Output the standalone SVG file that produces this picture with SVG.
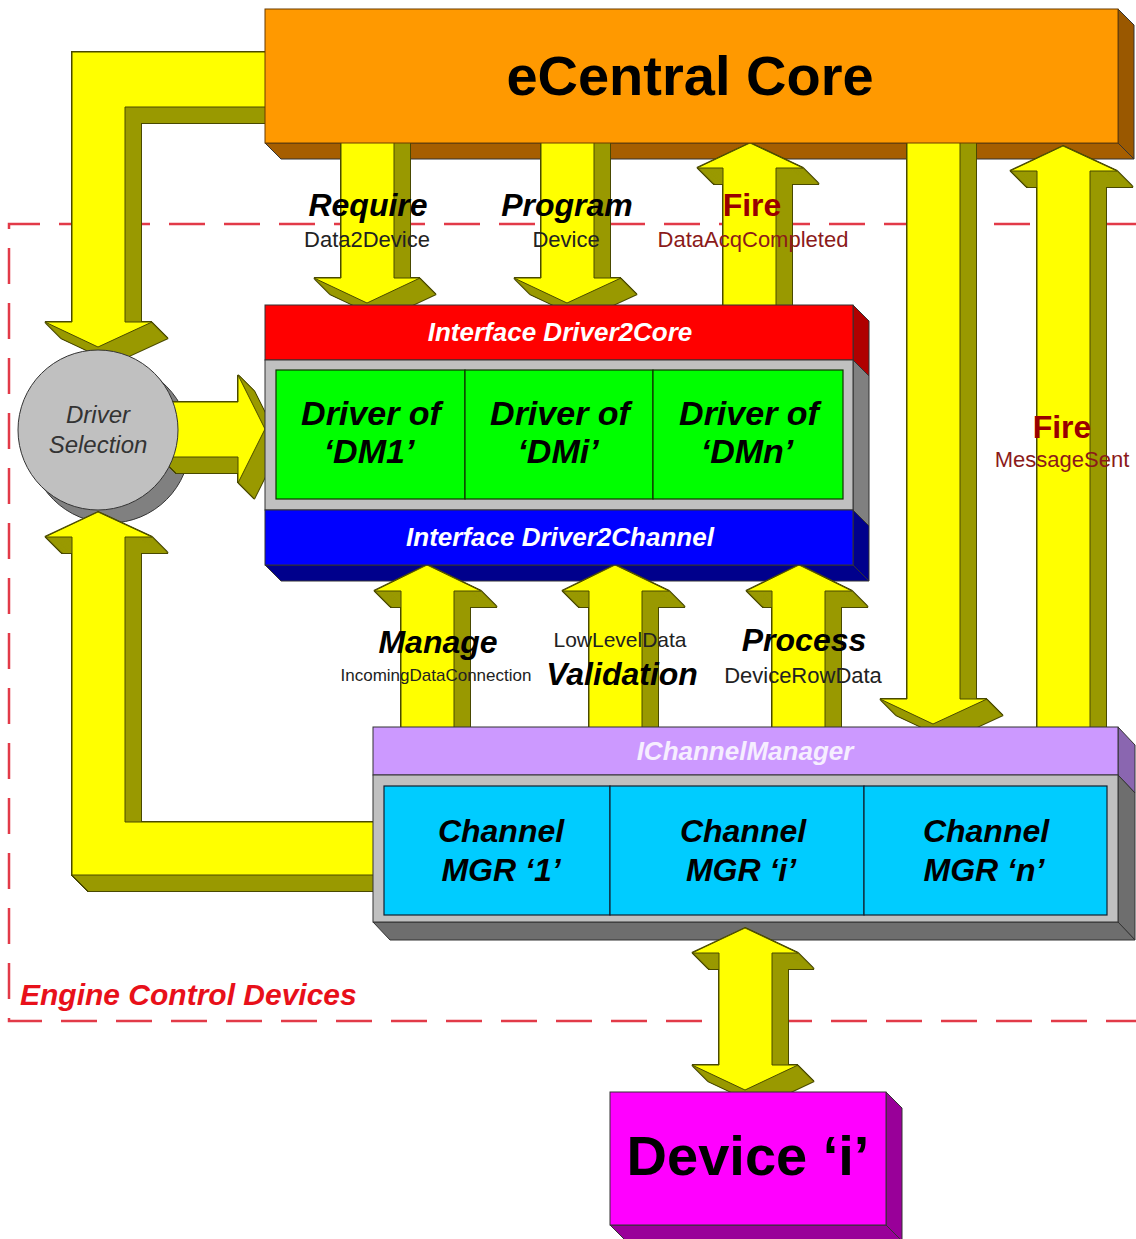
<svg xmlns="http://www.w3.org/2000/svg" width="1136" height="1239" viewBox="0 0 1136 1239">
<style>
  .sil{fill:#4a4a00;stroke:#4a4a00;stroke-width:2;stroke-linejoin:miter}
  .oli{fill:#999900;stroke:none}
  .front{fill:#ffff00;stroke:#4a4a00;stroke-width:1;stroke-linejoin:miter}
  .edge{stroke:#333;stroke-width:1}
  text{font-family:"Liberation Sans",Arial,sans-serif}
  .lbl{font-size:22px;fill:#222;text-anchor:middle}
  .verb{font-size:32px;font-weight:bold;font-style:italic;fill:#000;text-anchor:middle}
  .fire{font-size:32px;font-weight:bold;fill:#990000;text-anchor:middle}
  .firesub{font-size:22px;fill:#8b1a1a;text-anchor:middle}
  .cell{font-size:34px;font-weight:bold;font-style:italic;fill:#000;text-anchor:middle}
  .chan{font-size:32px;font-weight:bold;font-style:italic;fill:#000;text-anchor:middle}
  .iface{font-size:26px;font-weight:bold;font-style:italic;fill:#fff;text-anchor:middle}
</style>
<defs>
  <filter id="ex" filterUnits="userSpaceOnUse" x="0" y="0" width="1136" height="1239">
    <feOffset in="SourceGraphic" dx="1" dy="0.94" result="a"/>
    <feMerge result="m1"><feMergeNode in="SourceGraphic"/><feMergeNode in="a"/></feMerge>
    <feOffset in="m1" dx="2" dy="1.88" result="b"/>
    <feMerge result="m2"><feMergeNode in="m1"/><feMergeNode in="b"/></feMerge>
    <feOffset in="m2" dx="4" dy="3.75" result="c"/>
    <feMerge result="m3"><feMergeNode in="m2"/><feMergeNode in="c"/></feMerge>
    <feOffset in="m3" dx="8" dy="7.5" result="d"/>
    <feMerge result="m4"><feMergeNode in="m3"/><feMergeNode in="d"/></feMerge>
    <feOffset in="m4" dx="1" dy="0.94" result="e"/>
    <feMerge><feMergeNode in="m4"/><feMergeNode in="e"/></feMerge>
  </filter>
  <path id="pTL" d="M285,52 L72,52 L72,322 L45,322 L98,347 L152,322 L125,322 L125,107 L285,107 Z"/>
  <path id="pBL" d="M98,512 L152,537 L125,537 L125,822 L395,822 L395,875 L72,875 L72,537 L45,537 Z"/>
  <path id="pDS" d="M160,402 L238,402 L238,375 L265,429 L238,483 L238,457 L160,457 Z"/>
  <path id="pReq" d="M341,120 L394,120 L394,278 L420,278 L367,303 L314,278 L341,278 Z"/>
  <path id="pProg" d="M541,120 L594,120 L594,278 L621,278 L567,303 L514,278 L541,278 Z"/>
  <path id="pAcq" d="M750,143 L803,168 L776,168 L776,330 L723,330 L723,168 L697,168 Z"/>
  <path id="pDown" d="M907,120 L960,120 L960,699 L987,699 L933,724 L880,699 L907,699 Z"/>
  <path id="pMsg" d="M1063,146 L1117,171 L1090,171 L1090,750 L1037,750 L1037,171 L1010,171 Z"/>
  <path id="pMan" d="M427,565 L481,591 L454,591 L454,750 L401,750 L401,591 L374,591 Z"/>
  <path id="pVal" d="M615,565 L669,591 L642,591 L642,750 L589,750 L589,591 L562,591 Z"/>
  <path id="pProc" d="M799,565 L852,591 L825,591 L825,750 L772,750 L772,591 L746,591 Z"/>
  <path id="pDev" d="M745,928 L798,953 L772,953 L772,1065 L798,1065 L745,1090 L692,1065 L719,1065 L719,953 L692,953 Z"/>
</defs>

<rect width="1136" height="1239" fill="#ffffff"/>

<!-- boundary -->
<g id="engine-control-devices">
  <path d="M1140,224 L9,224 L9,1021 L1140,1021" fill="none" stroke="#e23a48" stroke-width="2.5" stroke-dasharray="36 19"/>
</g>

<!-- depth faces of the 3D blocks -->
<g id="depth-faces" class="edge">
  <polygon points="1118,9 1134,25 1134,159 1118,143" fill="#9a5800"/>
  <polygon points="265,143 1118,143 1134,159 281,159" fill="#a65e00"/>
  <polygon points="853,305 869,321 869,376 853,360" fill="#b00000"/>
  <polygon points="853,360 869,376 869,526 853,510" fill="#808080"/>
  <polygon points="853,510 869,526 869,581 853,565" fill="#00008c"/>
  <polygon points="265,565 853,565 869,581 281,581" fill="#00008c"/>
  <polygon points="1118,727 1135,745 1135,793 1118,775" fill="#8a66b0"/>
  <polygon points="1118,775 1135,793 1135,940 1118,922" fill="#6e6e6e"/>
  <polygon points="373,922 1118,922 1135,940 390,940" fill="#6e6e6e"/>
  <polygon points="886,1092 902,1108 902,1241 886,1225" fill="#990099"/>
  <polygon points="610,1225 886,1225 902,1241 626,1241" fill="#990099"/>
  <polygon points="39.2,484.2 51.2,497.2 168.8,388.8 156.8,375.8" fill="#808080" stroke="none"/>
  <circle cx="110" cy="443" r="80" fill="#808080"/>
</g>

<!-- connectors -->
<g id="connectors">
  <g id="c-core-selection">
    <use href="#pTL" class="sil" filter="url(#ex)"/>
    <use href="#pTL" class="oli" filter="url(#ex)"/>
    <use href="#pTL" class="front"/>
  </g>
  <g id="c-channel-selection">
    <use href="#pBL" class="sil" filter="url(#ex)"/>
    <use href="#pBL" class="oli" filter="url(#ex)"/>
    <use href="#pBL" class="front"/>
  </g>
  <g id="c-selection-driver">
    <use href="#pDS" class="sil" filter="url(#ex)"/>
    <use href="#pDS" class="oli" filter="url(#ex)"/>
    <use href="#pDS" class="front"/>
  </g>
  <g id="c-require">
    <use href="#pReq" class="sil" filter="url(#ex)"/>
    <use href="#pReq" class="oli" filter="url(#ex)"/>
    <use href="#pReq" class="front"/>
  </g>
  <g id="c-program">
    <use href="#pProg" class="sil" filter="url(#ex)"/>
    <use href="#pProg" class="oli" filter="url(#ex)"/>
    <use href="#pProg" class="front"/>
  </g>
  <g id="c-fire-acq">
    <use href="#pAcq" class="sil" filter="url(#ex)"/>
    <use href="#pAcq" class="oli" filter="url(#ex)"/>
    <use href="#pAcq" class="front"/>
  </g>
  <g id="c-core-channel">
    <use href="#pDown" class="sil" filter="url(#ex)"/>
    <use href="#pDown" class="oli" filter="url(#ex)"/>
    <use href="#pDown" class="front"/>
  </g>
  <g id="c-fire-msg">
    <use href="#pMsg" class="sil" filter="url(#ex)"/>
    <use href="#pMsg" class="oli" filter="url(#ex)"/>
    <use href="#pMsg" class="front"/>
  </g>
  <g id="c-manage">
    <use href="#pMan" class="sil" filter="url(#ex)"/>
    <use href="#pMan" class="oli" filter="url(#ex)"/>
    <use href="#pMan" class="front"/>
  </g>
  <g id="c-validation">
    <use href="#pVal" class="sil" filter="url(#ex)"/>
    <use href="#pVal" class="oli" filter="url(#ex)"/>
    <use href="#pVal" class="front"/>
  </g>
  <g id="c-process">
    <use href="#pProc" class="sil" filter="url(#ex)"/>
    <use href="#pProc" class="oli" filter="url(#ex)"/>
    <use href="#pProc" class="front"/>
  </g>
  <g id="c-channel-device">
    <use href="#pDev" class="sil" filter="url(#ex)"/>
    <use href="#pDev" class="oli" filter="url(#ex)"/>
    <use href="#pDev" class="front"/>
  </g>
</g>

<!-- nodes -->
<g id="ecentral-core">
  <rect x="265" y="9" width="853" height="134" fill="#ff9900" stroke="#6b3c00" stroke-width="1"/>
  <text x="690" y="95" font-size="56" font-weight="bold" text-anchor="middle" fill="#000">eCentral Core</text>
</g>

<g id="driver-selection">
  <circle cx="98" cy="430" r="80" fill="#c0c0c0" stroke="#333" stroke-width="1"/>
  <text x="98" y="423" font-size="24" font-style="italic" fill="#333" text-anchor="middle">Driver</text>
  <text x="98" y="453" font-size="24" font-style="italic" fill="#333" text-anchor="middle">Selection</text>
</g>

<g id="driver-block">
  <rect x="265" y="305" width="588" height="55" fill="#ff0000" class="edge"/>
  <rect x="265" y="360" width="588" height="150" fill="#c0c0c0" class="edge"/>
  <rect x="265" y="510" width="588" height="55" fill="#0000ff" class="edge"/>
  <text class="iface" x="560" y="341">Interface Driver2Core</text>
  <text class="iface" x="560" y="546">Interface Driver2Channel</text>
  <g id="driver-dm1">
    <rect x="276" y="370" width="189" height="129" fill="#00ff00" stroke="#103000" stroke-width="1.2"/>
    <text class="cell" x="371" y="425">Driver of</text>
    <text class="cell" x="369" y="463">‘DM1’</text>
  </g>
  <g id="driver-dmi">
    <rect x="465" y="370" width="188" height="129" fill="#00ff00" stroke="#103000" stroke-width="1.2"/>
    <text class="cell" x="560" y="425">Driver of</text>
    <text class="cell" x="558" y="463">‘DMi’</text>
  </g>
  <g id="driver-dmn">
    <rect x="653" y="370" width="190" height="129" fill="#00ff00" stroke="#103000" stroke-width="1.2"/>
    <text class="cell" x="749" y="425">Driver of</text>
    <text class="cell" x="747" y="463">‘DMn’</text>
  </g>
</g>

<g id="channel-manager">
  <rect x="373" y="727" width="745" height="48" fill="#cc99ff" class="edge"/>
  <rect x="373" y="775" width="745" height="147" fill="#c0c0c0" class="edge"/>
  <text x="745" y="760" font-size="26" font-weight="bold" font-style="italic" fill="#f6eeff" text-anchor="middle">IChannelManager</text>
  <g id="channel-mgr-1">
    <rect x="384" y="786" width="226" height="129" fill="#00ccff" stroke="#102030" stroke-width="1.2"/>
    <text class="chan" x="501" y="842">Channel</text>
    <text class="chan" x="501" y="881">MGR ‘1’</text>
  </g>
  <g id="channel-mgr-i">
    <rect x="610" y="786" width="254" height="129" fill="#00ccff" stroke="#102030" stroke-width="1.2"/>
    <text class="chan" x="743" y="842">Channel</text>
    <text class="chan" x="741" y="881">MGR ‘i’</text>
  </g>
  <g id="channel-mgr-n">
    <rect x="864" y="786" width="243" height="129" fill="#00ccff" stroke="#102030" stroke-width="1.2"/>
    <text class="chan" x="986" y="842">Channel</text>
    <text class="chan" x="984" y="881">MGR ‘n’</text>
  </g>
</g>

<g id="device-i">
  <rect x="610" y="1092" width="276" height="133" fill="#ff00ff" class="edge"/>
  <text x="748" y="1175" font-size="56" font-weight="bold" text-anchor="middle" fill="#000">Device ‘i’</text>
</g>

<!-- labels -->
<g id="labels">
  <text class="verb" x="368" y="216">Require</text>
  <text class="lbl" x="367" y="247">Data2Device</text>
  <text class="verb" x="567" y="216">Program</text>
  <text class="lbl" x="566" y="247">Device</text>
  <text class="fire" x="752" y="216">Fire</text>
  <text class="firesub" x="753" y="247">DataAcqCompleted</text>
  <text class="fire" x="1062" y="438">Fire</text>
  <text class="firesub" x="1062" y="467">MessageSent</text>
  <text class="verb" x="438" y="653">Manage</text>
  <text x="436" y="681" font-size="17" fill="#222" text-anchor="middle">IncomingDataConnection</text>
  <text x="620" y="647" font-size="21" fill="#222" text-anchor="middle">LowLevelData</text>
  <text class="verb" x="622" y="685">Validation</text>
  <text class="verb" x="804" y="651">Process</text>
  <text class="lbl" x="803" y="683">DeviceRowData</text>
  <text x="20" y="1005" font-size="30" font-weight="bold" font-style="italic" fill="#e8101a">Engine Control Devices</text>
</g>
</svg>
